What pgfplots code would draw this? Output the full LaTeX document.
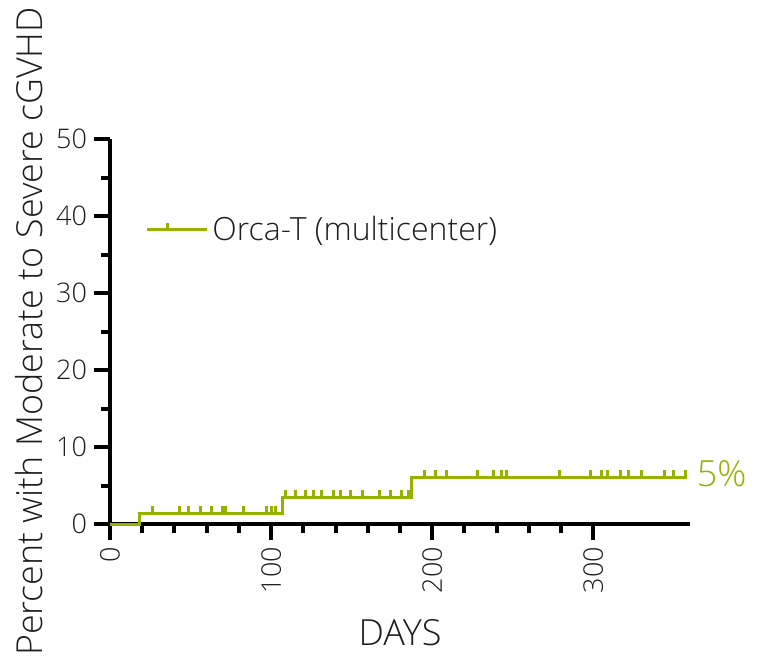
\documentclass[border=0pt]{standalone}
\usepackage{pgfplots}
\pgfplotsset{compat=1.18}
\usepackage{fontspec}
\setmainfont{Open Sans Light}
\definecolor{orca}{RGB}{150,178,0}
\definecolor{txt}{RGB}{30,30,30}
\pgfdeclareplotmark{cens}{\pgfpathmoveto{\pgfpointorigin}\pgfpathlineto{\pgfpoint{0pt}{\pgfplotmarksize}}\pgfusepathqstroke}
\begin{document}
\begin{tikzpicture}
\begin{axis}[name=ax, scale only axis, width=290pt, height=192.5pt,
  xmin=0, xmax=360, ymin=0, ymax=50,
  axis lines=left, axis line style={line width=2pt, -, black},
  clip=false,
  xtick={0,100,200,300}, minor x tick num=4,
  ytick={0,10,20,30,40,50}, minor y tick num=1,
  tick align=outside, major tick length=8pt, minor tick length=4.5pt,
  every tick/.style={line width=2pt, black},
  /pgf/number format/assume math mode=true,
  xticklabel style={rotate=90, anchor=east, font=\fontsize{13.5}{14}\selectfont, text=txt},
  yticklabel style={font=\fontsize{13.5}{14}\selectfont, text=txt},
  xlabel={DAYS}, ylabel={Percent with Moderate to Severe cGVHD},
  xlabel style={at={(axis description cs:0.5,-0.3143)}, anchor=base, font=\fontsize{18}{20}\selectfont, text=txt},
  ylabel style={at={(axis description cs:-0.1172,0.5)}, anchor=base, rotate=0, font=\fontsize{17.9}{19}\selectfont, text=txt},
  legend style={at={(axis description cs:0.05,0.764)}, anchor=west, draw=none, fill=none, font=\fontsize{16}{18}\selectfont, text=txt},
  legend image code/.code={\draw[line width=1.5pt] (0pt,0pt) -- (21pt,0pt); \draw[line width=1.5pt] (10.5pt,0pt) -- (10.5pt,3.5pt); \path (21pt,0pt) -- (30pt,0pt);},
]
\addplot[const plot, orca, line width=1.5pt] coordinates {(0,0) (18.5,1.4) (107,3.5) (187,6.1) (358,6.1)};
\addlegendentry{Orca-T (multicenter)}
\addplot[only marks, mark=cens, mark size=3.75pt, orca, line width=1.5pt, forget plot] coordinates {
(26.5,1.4) (43,1.4) (49,1.4) (56,1.4) (63,1.4) (70,1.4) (72,1.4) (83,1.4) (97,1.4) (100,1.4) (103,1.4)
(109,3.5) (115,3.5) (121.5,3.5) (126.5,3.5) (131.5,3.5) (139,3.5) (143,3.5) (149,3.5) (157,3.5) (167,3.5) (174,3.5) (181,3.5) (185,3.5)
(195,6.1) (202,6.1) (209,6.1) (228,6.1) (238,6.1) (243,6.1) (246,6.1) (279,6.1) (298,6.1) (305,6.1) (309,6.1) (317,6.1) (322,6.1) (330,6.1) (344,6.1) (350,6.1) (357,6.1)};
\node[anchor=west, text=orca, font=\fontsize{18}{20}\selectfont, inner sep=0pt] at (axis cs:364,6.6) {5\%};
\end{axis}
\path[use as bounding box] ([shift={(-55pt,-67pt)}]ax.south west) rectangle ([shift={(34.5pt,69.5pt)}]ax.north east);
\end{tikzpicture}
\end{document}
